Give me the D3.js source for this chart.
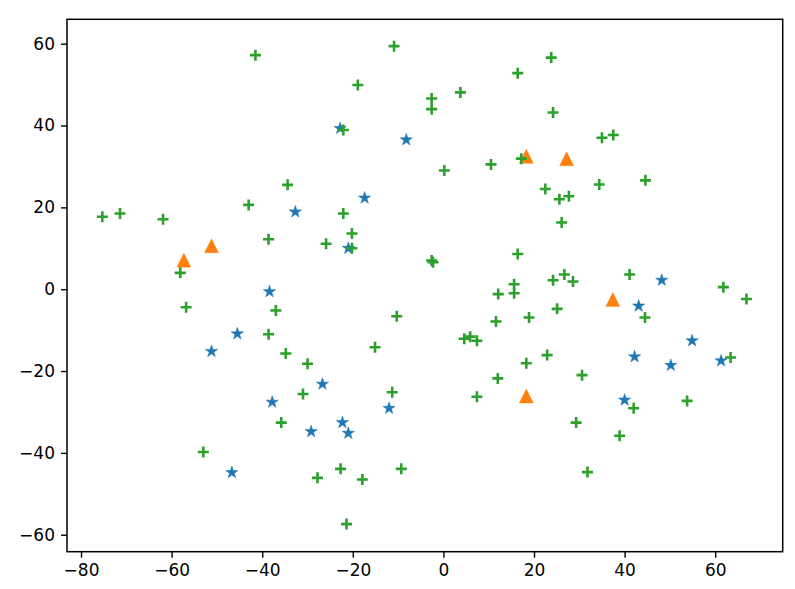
<!DOCTYPE html>
<html>
<head>
<meta charset="utf-8">
<script src="https://cdn.jsdelivr.net/npm/d3@7"></script>
<style>
html,body{margin:0;padding:0;background:#fff;}
svg{display:block;}
text{font-family:"DejaVu Sans",sans-serif;}
</style>
</head>
<body>
<svg id="chart" width="795" height="589"></svg>
<script>
// Series: blue stars
const starX = [-38.4, -22.8, -8.2, -17.4, -32.7, -21.0, -45.5, -51.2, -37.8, -46.7, -26.7, -12.0, -29.2, -22.3, -21.0, 48.2, 43.1, 54.9, 42.2, 50.2, 61.3, 40.0];
const starY = [-0.6, 39.3, 36.5, 22.3, 18.9, 10.0, -10.9, -15.2, -27.6, -44.8, -23.2, -29.1, -34.8, -32.6, -35.2, 2.2, -4.1, -12.6, -16.5, -18.6, -17.5, -27.1];
// Series: orange triangles
const triX = [-57.3, -51.2, 18.3, 27.2, 37.4, 18.3];
const triY = [7.1, 10.6, 32.5, 31.9, -2.5, -26.1];
// Series: green pluses
const plusX = [-75.3, -71.4, -61.9, -58.1, -41.5, -43.0, -38.6, -10.9, -18.9, -2.6, -2.6, 3.75, 16.4, -22.1, 0.2, 10.5, 17.2,
  -34.4, -22.1, -20.2, -25.9, -20.2, -2.6, -2.3, 16.4, 12.1, 15.6, 15.6,
  23.8, 24.2, 35.0, 37.5, 22.5, 25.6, 27.7, 34.4, 44.6, 26.1, 24.2, 26.7, 28.6, 41.1, 61.8, 66.9,
  -56.8, -38.6, -53.0, -37.0, -10.3, -34.8, -15.1, -30.0, -31.0, -11.3, -35.8, -27.8, -22.7, -17.9, -9.3, -21.4,
  11.6, 18.9, 4.6, 5.9, 7.4, 18.3, 12.0, 7.4, 44.5, 25.1, 63.4, 22.9, 30.6, 42.0, 53.8, 29.3, 38.9, 31.8];
const plusY = [17.7, 18.5, 17.1, 4.0, 57.2, 20.6, 12.2, 59.4, 49.9, 46.6, 44.0, 48.1, 52.8, 38.9, 29.0, 30.5, 31.9,
  25.5, 18.5, 13.6, 11.1, 10.0, 7.0, 6.6, 8.6, -1.2, 1.2, -1.0,
  56.6, 43.2, 37.0, 37.7, 24.5, 22.0, 22.7, 25.6, 26.6, 16.3, 2.2, 3.6, 1.9, 3.6, 0.5, -2.4,
  -4.4, -11.0, -39.8, -5.2, -6.6, -15.7, -14.2, -18.2, -25.6, -25.2, -32.6, -46.1, -43.9, -46.5, -43.9, -57.4,
  -7.9, -6.9, -12.1, -11.6, -12.6, -18.1, -21.8, -26.3, -6.9, -4.8, -16.7, -16.1, -21.0, -29.1, -27.3, -32.6, -35.8, -44.7];
const xTicks = [-80, -60, -40, -20, 0, 20, 40, 60];
const yTicks = [-60, -40, -20, 0, 20, 40, 60];

const svg = d3.select("#chart");
const L = 67, R = 782.7, T = 19.3, B = 551.7;
const x = d3.scaleLinear().domain([-83.1, 74.9]).range([L, R]);
const y = d3.scaleLinear().domain([-64.15, 65.96]).range([B, T]);

const fmt = d => (d < 0 ? "\u2212" + Math.abs(d) : String(d));

const xAxis = svg.append("g").attr("transform", `translate(0,${B})`)
  .call(d3.axisBottom(x).tickValues(xTicks).tickSize(6).tickPadding(6).tickFormat(fmt));
const yAxis = svg.append("g").attr("transform", `translate(${L},0)`)
  .call(d3.axisLeft(y).tickValues(yTicks).tickSize(6).tickPadding(6).tickFormat(fmt));
[xAxis, yAxis].forEach(a => {
  a.select(".domain").remove();
  a.selectAll(".tick line").attr("stroke", "#000").attr("stroke-width", 1.4);
  a.selectAll(".tick text").attr("fill", "#000").style("font-size", "17px").style("font-family", "'DejaVu Sans', sans-serif");
});

const plot = svg.append("g");

// star path
function starPath(r) {
  const ri = r * 0.381966;
  let p = "";
  for (let i = 0; i < 10; i++) {
    const rr = i % 2 === 0 ? r : ri;
    const a = -Math.PI / 2 + i * Math.PI / 5;
    p += (i ? "L" : "M") + (rr * Math.cos(a)).toFixed(2) + "," + (rr * Math.sin(a)).toFixed(2);
  }
  return p + "Z";
}
const triPath = "M0,-7L7,7L-7,7Z";

plot.selectAll("path.star").data(starX.map((d, i) => [d, starY[i]])).enter()
  .append("path").attr("class", "star")
  .attr("d", starPath(6.4))
  .attr("transform", d => `translate(${x(d[0])},${y(d[1])})`)
  .attr("fill", "#1f77b4").attr("stroke", "#1f77b4").attr("stroke-width", 0.8).attr("stroke-opacity", 0.7);

plot.selectAll("path.tri").data(triX.map((d, i) => [d, triY[i]])).enter()
  .append("path").attr("class", "tri")
  .attr("d", triPath)
  .attr("transform", d => `translate(${x(d[0])},${y(d[1])})`)
  .attr("fill", "#ff7f0e").attr("stroke", "#ff7f0e").attr("stroke-width", 0.6).attr("stroke-opacity", 0.6);

plot.selectAll("path.plus").data(plusX.map((d, i) => [d, plusY[i]])).enter()
  .append("path").attr("class", "plus")
  .attr("d", "M-5.5,0H5.5M0,-5.5V5.5")
  .attr("transform", d => `translate(${x(d[0])},${y(d[1])})`)
  .attr("fill", "none").attr("stroke", "#2ca02c").attr("stroke-width", 2.6);

// frame
svg.append("rect").attr("x", L).attr("y", T).attr("width", R - L).attr("height", B - T)
  .attr("fill", "none").attr("stroke", "#000").attr("stroke-width", 1.5);
</script>
</body>
</html>
